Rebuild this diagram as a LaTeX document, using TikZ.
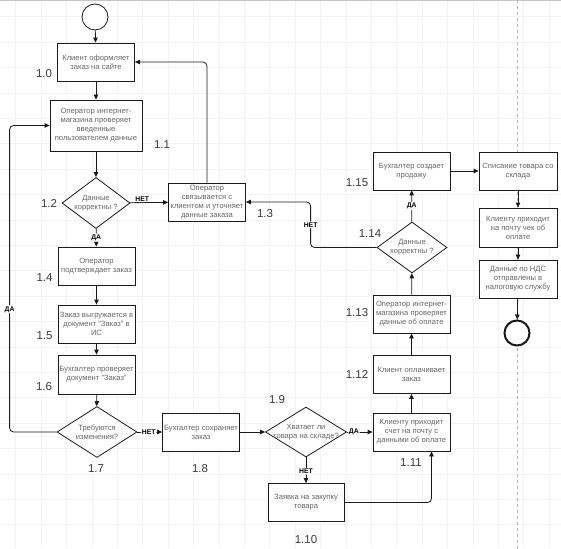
\documentclass[tikz,border=0pt]{standalone}
\usepackage{fontspec}
\setmainfont{Liberation Sans}
\usetikzlibrary{arrows.meta, positioning, shapes.geometric}
\definecolor{inkline}{HTML}{1A1A1A}
\definecolor{inktext}{HTML}{666666}
\definecolor{inknum}{HTML}{3A3A3A}
\definecolor{gridfaint}{HTML}{F3F3F3}

\begin{document}
\begin{tikzpicture}[x=1pt, y=-1pt,
  font=\fontsize{7.6}{9}\selectfont,
  box/.style={draw=inkline, fill=white, line width=0.8pt, text=inktext,
    align=center, inner sep=1pt, minimum width=77pt, minimum height=38pt},
  decision/.style={diamond, draw=inkline, fill=white, line width=0.8pt,
    inner sep=0pt, minimum width=80pt, minimum height=50pt},
  say/.style={text=inktext, align=center, inner sep=0pt},
  num/.style={text=inknum, font=\fontsize{11.5}{12}\selectfont},
  answer/.style={font=\bfseries\fontsize{6.8}{7}\selectfont, fill=white, inner sep=1pt},
  flow/.style={draw=inkline, line width=0.8pt, rounded corners=4pt,
    -{Triangle[length=5pt, width=4.5pt]}},
  gridline/.style={draw=gridfaint, line width=0.4pt},
  lane/.style={draw=gray!60, dashed, line width=0.5pt}]
  \useasboundingbox (0,0) rectangle (561,548);
  \foreach \gx in {0,...,21}
    \draw[gridline] (15.5+25.4*\gx,0) -- (15.5+25.4*\gx,548);
  \foreach \gy in {0,...,21}
    \draw[gridline] (0,16.6+25.4*\gy) -- (561,16.6+25.4*\gy);
  \draw[gray!45, line width=0.6pt] (0,0.5) -- (561,0.5);
  \draw[lane] (517,0) -- (517,548);

  \node[circle, draw=inkline, fill=white, line width=0.8pt, minimum size=26pt,
    inner sep=0pt] (start) at (95,17) {};
  \node[box] (b10) at (96,62) {Клиент оформляет\\заказ на сайте};
  \node[box, minimum width=92pt, minimum height=51pt] (b11) at (96,125.5)
    {Оператор интернет-\\магазина проверяет\\введенные\\пользователем данные};
  \node[decision, minimum width=68pt, minimum height=51pt,
    label={[say]center:{Данные\\корректны ?}}] (d12) at (96,203) {};
  \node[box] (b13) at (207,202)
    {Оператор\\связывается с\\клиентом и уточняет\\данные заказа};
  \node[box] (b14) at (96.5,266) {Оператор\\подтверждает заказ};
  \node[box] (b15) at (96.5,324) {Заказ выгружается в\\документ "Заказ" в\\ИС};
  \node[box, minimum height=39pt] (b16) at (96.5,374.5)
    {Бухгалтер проверяет\\документ "Заказ"};
  \node[decision, minimum height=51pt,
    label={[say]center:{Требуются\\изменения?}}] (d17) at (97,432) {};
  \node[box] (b18) at (201,432) {Бухгалтер сохраняет\\заказ};
  \node[decision, minimum width=81pt,
    label={[say]center:{Хватает ли\\товара на складе?}}] (d19) at (306,432) {};
  \node[box, minimum width=76pt] (b110) at (306,502.5) {Заявка на закупку\\товара};
  \node[box] (b111) at (411.5,432)
    {Клиенту приходит\\счет на почту с\\данными об оплате};
  \node[box] (b112) at (411.5,374.5) {Клиент оплачивает\\заказ};
  \node[box] (b113) at (411.5,314)
    {Оператор интернет-\\магазина проверяет\\данные об оплате};
  \node[decision, minimum width=70pt, minimum height=51pt,
    label={[say]center:{Данные\\корректны ?}}] (d114) at (412,247.5) {};
  \node[box] (b115) at (411.5,171) {Бухгалтер создает\\продажу};
  \node[box, minimum width=78pt] (spis) at (518,171) {Списание товара со\\склада};
  \node[box, minimum width=78pt, minimum height=39pt] (chek) at (518,227.5)
    {Клиенту приходит\\на почту чек об\\оплате};
  \node[box, minimum width=78pt] (nds) at (518,279)
    {Данные по НДС\\отправлены в\\налоговую службу};
  \node[circle, draw=inkline, fill=white, line width=2pt, minimum size=25pt,
    inner sep=0pt] (end) at (517,333) {};

  \node[num] (l10) at (44,74) {1.0};
  \node[num] (l11) at (162,145) {1.1};
  \node[num] (l12) at (49,203) {1.2};
  \node[num] (l13) at (265,214) {1.3};
  \node[num] (l14) at (44.5,278) {1.4};
  \node[num] (l15) at (44.5,336) {1.5};
  \node[num] (l16) at (44,387) {1.6};
  \node[num] (l17) at (96,469) {1.7};
  \node[num] (l18) at (200,469) {1.8};
  \node[num] (l19) at (277,400) {1.9};
  \node[num] (l110) at (306,540) {1.10};
  \node[num] (l111) at (411,463) {1.11};
  \node[num] (l112) at (357,374) {1.12};
  \node[num] (l113) at (357,313) {1.13};
  \node[num] (l114) at (370,234) {1.14};
  \node[num] (l115) at (357,183) {1.15};

  \draw[flow] (start) -- (b10);
  \draw[flow] (b10) -- (b11);
  \draw[flow] (b11) -- (d12);
  \draw[flow] (d12) -- node[answer, pos=0.32, above] {НЕТ} (b13);
  \draw[flow] (b13.north) |- (b10.east);
  \draw[flow] (d12) -- node[answer, pos=0.5] {ДА} (b14);
  \draw[flow] (b14) -- (b15);
  \draw[flow] (b15) -- (b16);
  \draw[flow] (b16) -- (d17);
  \draw[flow] (d17.west) -- ++(-47,0) |- node[answer, pos=0.2] {ДА} (b11.west);
  \draw[flow] (d17) -- node[answer, pos=0.46] {НЕТ} (b18);
  \draw[flow] (b18) -- (d19);
  \draw[flow] (d19) -- node[answer, pos=0.27] {ДА} (b111);
  \draw[flow] (d19) -- node[answer, pos=0.54] {НЕТ} (b110);
  \draw[flow] (b110.east) -| ([xshift=20pt]b111.south);
  \draw[flow] (b111) -- (b112);
  \draw[flow] (b112) -- (b113);
  \draw[flow] (b113) -- (d114);
  \draw[flow] (d114) -- node[answer, pos=0.5] {ДА} (b115);
  \draw[flow] (d114.west) -- ++(-66,0) |- node[answer, pos=0.25] {НЕТ} (b13.east);
  \draw[flow] (b115) -- (spis);
  \draw[flow] (spis) -- (chek);
  \draw[flow] (chek) -- (nds);
  \draw[flow] (nds) -- (end);
\end{tikzpicture}
\end{document}
